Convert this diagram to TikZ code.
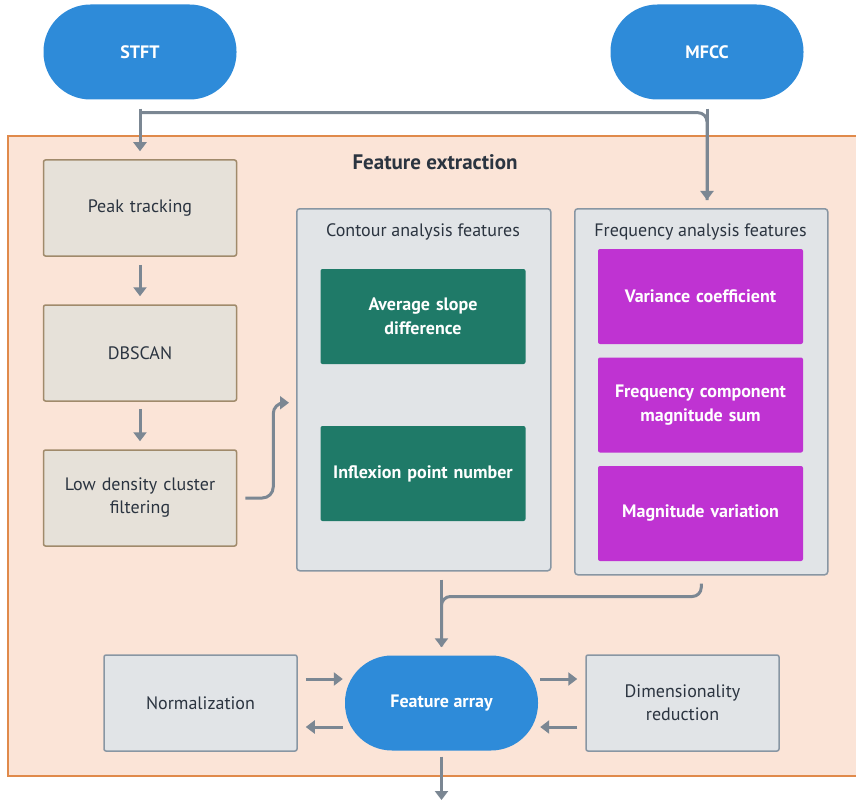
\documentclass[tikz,border=0pt]{standalone}
\usepackage{fontspec}
\setmainfont{PT Sans}
\usetikzlibrary{arrows.meta}
\definecolor{blueterm}{HTML}{2E8BD9}
\definecolor{beigefill}{HTML}{E6E1D9}
\definecolor{beigeline}{HTML}{A08A6B}
\definecolor{grayfill}{HTML}{E1E4E7}
\definecolor{grayline}{HTML}{8896A3}
\definecolor{orfill}{HTML}{FBE4D7}
\definecolor{orline}{HTML}{E08A4B}
\definecolor{tealbox}{HTML}{1F7A68}
\definecolor{magbox}{HTML}{BF33D2}
\definecolor{connc}{HTML}{7B8793}
\definecolor{txt}{HTML}{2B3440}
\tikzset{
  fs/.style={font=\fontsize{18}{23}\selectfont},
  terminal/.style={font=\fontsize{18}{23}\selectfont\bfseries, text=white, fill=blueterm, rounded corners=47pt, minimum width=193pt, minimum height=95pt, inner sep=0pt},
  procbox/.style={fs, text=txt, fill=beigefill, draw=beigeline, line width=1.5pt, rounded corners=2pt, minimum width=193pt, minimum height=96pt, text width=180pt, align=center, inner sep=0pt},
  graybox/.style={fs, text=txt, fill=grayfill, draw=grayline, line width=1.5pt, rounded corners=2pt, minimum width=193pt, minimum height=96pt, text width=180pt, align=center, inner sep=0pt},
  group/.style={fill=grayfill, draw=grayline, line width=1.5pt, rounded corners=3pt, inner sep=0pt, anchor=north west},
  featbox/.style={font=\fontsize{18}{24}\selectfont\bfseries, text=white, rounded corners=2pt, minimum width=205pt, minimum height=95pt, text width=195pt, align=center, inner sep=0pt},
  tealnode/.style={featbox, fill=tealbox},
  magnode/.style={featbox, fill=magbox},
  conn/.style={draw=connc, line width=3pt, -{Triangle[length=9pt,width=13pt]}},
  plainline/.style={draw=connc, line width=3pt},
}
\begin{document}
\begin{tikzpicture}[x=1pt,y=-1pt]
\useasboundingbox (0,0) rectangle (856,805);
% container
\node[fill=orfill, draw=orline, line width=1.8pt, minimum width=860pt, minimum height=640pt, anchor=north west, inner sep=0pt] (fe) at (7,135) {};
\node[font=\fontsize{21}{25}\selectfont\bfseries, text=txt] (fetitle) at (435,162) {Feature extraction};
% terminals
\node[terminal] (stft) at (140,52) {STFT};
\node[terminal] (mfcc) at (707,52) {MFCC};
% left chain
\node[procbox] (peak) at (140,208) {Peak tracking};
\node[procbox] (dbscan) at (140,353) {DBSCAN};
\node[procbox] (low) at (140,498) {Low density cluster\\filtering};
% groups
\node[group, minimum width=254pt, minimum height=362pt] (contour) at (296,208) {};
\node[fs, text=txt] (contourt) at (423,232) {Contour analysis features};
\node[group, minimum width=253pt, minimum height=366pt] (freq) at (574,208) {};
\node[fs, text=txt] (freqt) at (700.5,232) {Frequency analysis features};
\node[tealnode] (slope) at (423,316.5) {Average slope\\difference};
\node[tealnode] (inflex) at (423,473.5) {Inflexion point number};
\node[magnode] (var) at (700.5,296.5) {Variance coefficient};
\node[magnode] (fcms) at (700.5,405) {Frequency component\\magnitude sum};
\node[magnode] (magv) at (700.5,513.5) {Magnitude variation};
% bottom row
\node[graybox] (norm) at (200.5,703) {Normalization};
\node[terminal] (fa) at (441.5,703) {Feature array};
\node[graybox] (dr) at (682.5,703) {Dimensionality\\reduction};
% connectors top
\path (freq.north -| mfcc.south) ++(0,-8) coordinate (fin);
\draw[plainline, rounded corners=9pt] ([yshift=-13]stft.south) -| (fin);
\draw[conn] ([yshift=-9]stft.south) -- ([yshift=8]peak.north);
\draw[conn] ([yshift=-9]mfcc.south) -- (fin);
% left chain
\draw[conn] ([yshift=-8]peak.south) -- ([yshift=8]dbscan.north);
\draw[conn] ([yshift=-7]dbscan.south) -- ([yshift=8]low.north);
\draw[conn, rounded corners=11pt] ([xshift=8]low.east) -- ++(28,0) |- ([xshift=-7,yshift=-13]contour.west);
% to feature array
\path (contour.south -| fa.north) ++(0,8) coordinate (c1);
\draw[plainline, rounded corners=9pt] ([yshift=-8]freq.south) -- ++(0,13) -| ([yshift=9]fa.north);
\draw[conn] (c1) -- ([yshift=8]fa.north);
% bidirectional
\draw[conn] ([xshift=8,yshift=24]norm.east) -- ([xshift=-2,yshift=24]fa.west);
\draw[conn] ([xshift=-2,yshift=-24]fa.west) -- ([xshift=8,yshift=-24]norm.east);
\draw[conn] ([xshift=2,yshift=24]fa.east) -- ([xshift=-8,yshift=24]dr.west);
\draw[conn] ([xshift=-8,yshift=-24]dr.west) -- ([xshift=2,yshift=-24]fa.east);
\coordinate (outend) at (441.5,800);
\draw[conn] ([yshift=-6]fa.south) -- (outend);
\end{tikzpicture}
\end{document}
